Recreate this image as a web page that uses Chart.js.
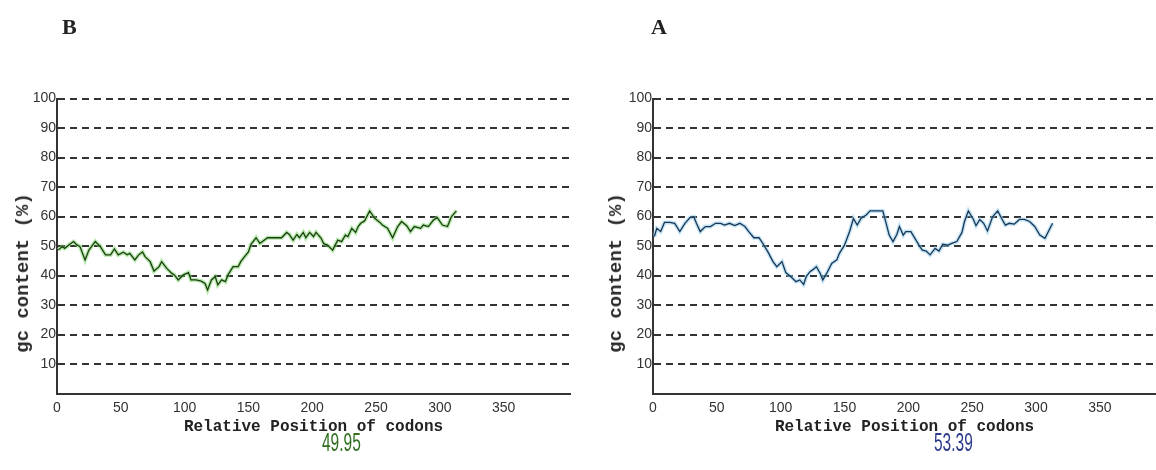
<!DOCTYPE html>
<html>
<head>
<meta charset="utf-8">
<script src="https://cdn.jsdelivr.net/npm/chart.js@4/dist/chart.umd.min.js"></script>
<style>
  body { margin: 0; background: #fff; width: 1156px; height: 470px; position: relative; overflow: hidden; }
  canvas { position: absolute; top: 0; }
  .panel { position: absolute; top: 14px; font: bold 22px "Liberation Serif", serif; color: #222; }
  .ytitle { position: absolute; font: bold 19px "Liberation Mono", monospace; color: #2a2a2a; white-space: nowrap;
            transform: translate(-50%, -50%) rotate(-90deg); }
  .val { position: absolute; top: 428px; font: 25px "Liberation Sans Narrow", "Liberation Sans", sans-serif;
         transform: scaleX(0.62); transform-origin: left top; }
</style>
</head>
<body>
<canvas id="chartB" width="578" height="470" style="left:0"></canvas>
<canvas id="chartA" width="578" height="470" style="left:578px"></canvas>
<div class="panel" style="left:62px">B</div>
<div class="panel" style="left:651px">A</div>
<div class="ytitle" style="left:23px; top:273px">gc content (%)</div>
<div class="ytitle" style="left:616px; top:273px">gc content (%)</div>
<div class="val" style="left:322px; color:#2f6e1f">49.95</div>
<div class="val" style="left:934px; color:#2b3a8c">53.39</div>
<script>
// codon positions and GC content (%)
var bPos = [1, 4, 6, 10, 13, 15, 18, 22, 25, 27, 30, 34, 38, 42, 45, 48, 52, 55, 57, 61, 64, 67, 69, 73, 76, 80,
  82, 86, 90, 92, 95, 99, 103, 105, 109, 113, 116, 118, 121, 124, 126, 129, 132, 134, 138, 142, 144, 147, 150,
  152, 156, 159, 161, 165, 170, 176, 180, 182, 185, 188, 190, 193, 195, 198, 201, 203, 207, 209, 212, 216, 220,
  223, 226, 228, 231, 234, 236, 238, 241, 245, 249, 253, 255, 259, 263, 267, 270, 274, 277, 280, 285, 287, 291,
  295, 298, 302, 306, 309, 313];
var bGC = [48.6, 49.8, 49.2, 50.6, 51.5, 50.6, 49.8, 45.3, 48.6, 49.8, 51.5, 49.8, 47, 47, 49, 47, 47.9, 47, 47.5,
  45.3, 47, 48, 46.4, 44.7, 41.5, 43, 44.7, 42.4, 40.7, 40.2, 38.5, 40.2, 41, 38.5, 38.5, 38.1, 37.3, 35.1, 38.5,
  39.6, 36.8, 38.5, 37.9, 40.2, 43, 43, 44.7, 46.4, 48, 50.6, 52.8, 50.9, 51.5, 52.8, 52.8, 52.8, 54.6, 53.9, 52,
  53.9, 52.8, 54.6, 52.8, 54.6, 53.2, 54.6, 52.6, 50.8, 50.3, 48.6, 52, 51.5, 53.7, 53.2, 56, 54.6, 56.6, 57.7,
  58.5, 61.9, 59.4, 58, 57.1, 56, 52.8, 56.6, 58.3, 56.9, 54.9, 56.6, 56, 57.1, 56.6, 58.8, 59.6, 57.1, 56.6,
  59.9, 61.9];

var aPos = [1, 3, 6, 9, 13, 17, 21, 25, 29, 32, 34, 37, 41, 45, 49, 53, 56, 60, 64, 68, 72, 75, 79, 83, 86, 90,
  94, 97, 101, 104, 108, 112, 115, 118, 120, 123, 125, 128, 131, 133, 136, 140, 144, 146, 150, 154, 157, 160,
  163, 167, 170, 175, 180, 183, 185, 188, 191, 193, 196, 198, 202, 206, 209, 211, 214, 217, 221, 224, 227, 231,
  234, 238, 242, 244, 247, 251, 253, 256, 259, 262, 266, 270, 273, 276, 279, 283, 287, 291, 295, 299, 303, 307,
  311, 313];
var aGC = [53.2, 56, 54.9, 58, 58, 57.7, 54.9, 57.7, 59.6, 59.9, 57.7, 54.9, 56.6, 56.6, 57.7, 57.7, 57.1, 57.7,
  56.9, 57.7, 56.6, 54.9, 52.8, 52.8, 50.9, 48, 44.7, 43, 44.7, 41, 39.6, 37.9, 38.5, 37, 39.6, 41.3, 41.9, 43,
  40.7, 38.5, 40.7, 44.1, 45.3, 47.5, 50.3, 54.9, 59.3, 57.1, 59.4, 60.5, 61.9, 61.9, 61.9, 57.1, 53.7, 51.5,
  53.9, 56.6, 53.7, 54.9, 54.9, 52, 49.8, 48.6, 48.3, 47, 49.2, 48.3, 50.6, 50.3, 50.9, 51.5, 54.6, 58.3, 61.9,
  59, 56.9, 59, 57.7, 55.1, 59.9, 61.9, 59.4, 57.1, 57.7, 57.4, 59, 59, 58.3, 56.6, 53.7, 52.6, 56, 57.7];

var xTicks = [0, 50, 100, 150, 200, 250, 300, 350];
var yTicks = [10, 20, 30, 40, 50, 60, 70, 80, 90, 100];
var xTitle = "Relative Position of codons";

function points(pos, vals) {
  var arr = [];
  for (let i = 0; i < pos.length; i++) {
    arr.push({ x: pos[i], y: vals[i] });
  }
  return arr;
}

function makeChart(id, pos, vals, lineColor, glowColor, xMax, yWidth, padRight) {
  var data = points(pos, vals);
  return new Chart(document.getElementById(id), {
    type: "line",
    data: {
      datasets: [
        { data: data, borderColor: lineColor, borderWidth: 1.3, pointRadius: 0, tension: 0, order: 0 },
        { data: data, borderColor: glowColor, borderWidth: 4, pointRadius: 0, tension: 0, order: 1 },
      ],
    },
    options: {
      responsive: false,
      animation: false,
      layout: { padding: { left: 0, right: padRight, top: 98.5, bottom: 0 } },
      plugins: { legend: { display: false }, tooltip: { enabled: false } },
      scales: {
        x: {
          type: "linear",
          min: 0,
          max: xMax,
          afterBuildTicks: (s) => { s.ticks = xTicks.map((v) => ({ value: v })); },
          afterFit: (s) => { s.height = 76.5; },
          grid: { display: false, drawTicks: false },
          border: { display: true, color: "#333", width: 2 },
          ticks: { padding: 6, color: "#333", font: { family: "Liberation Sans", size: 14 } },
          title: {
            display: true,
            text: xTitle,
            color: "#222",
            font: { family: "Liberation Mono", size: 16, weight: "bold" },
            padding: { top: 0, bottom: 33 },
          },
        },
        y: {
          min: 0,
          max: 100,
          afterBuildTicks: (s) => { s.ticks = yTicks.map((v) => ({ value: v })); },
          afterFit: (s) => { s.width = yWidth; },
          grid: { color: "#333", lineWidth: 2, drawTicks: false },
          border: { display: true, color: "#333", width: 2, dash: [7, 5] },
          ticks: { padding: 1, color: "#333", font: { family: "Liberation Sans", size: 14 } },
        },
      },
    },
  });
}

makeChart("chartB", bPos, bGC, "#1e3d14", "rgba(120,215,100,0.55)", 402, 57, 8);
makeChart("chartA", aPos, aGC, "#1d3550", "rgba(140,205,240,0.55)", 394, 75, 0);
</script>
</body>
</html>
